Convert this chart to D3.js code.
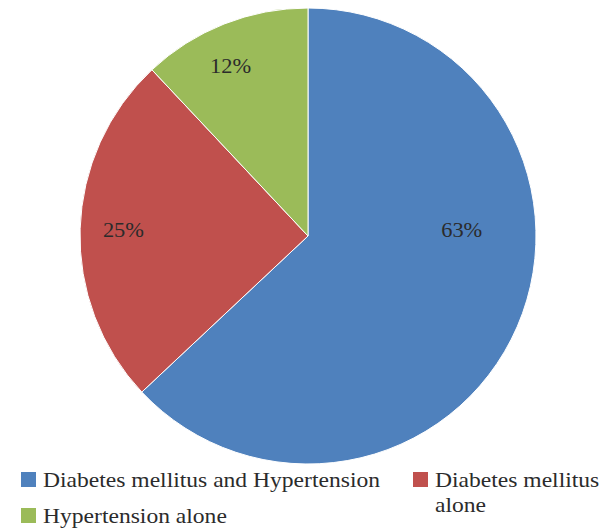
<!DOCTYPE html>
<html><head><meta charset="utf-8">
<script src="https://cdn.jsdelivr.net/npm/d3@7"></script>
<style>body{margin:0;background:#fff}svg{display:block}</style>
</head><body>
<svg id="c" width="602" height="529"></svg>
<script>
const categories = ["Diabetes mellitus and Hypertension", "Diabetes mellitus alone", "Hypertension alone"];
const values = [63, 25, 12];
const labels = ["63%", "25%", "12%"];
const colors = ["#4F81BD", "#C0504D", "#9BBB59"];

const svg = d3.select("#c");
const font = "'Liberation Serif', 'DejaVu Serif', serif";
const cx = 308, cy = 236, r = 228;

const pie = d3.pie().sort(null).value(d => d)(values);
const arc = d3.arc().innerRadius(0).outerRadius(r);
const g = svg.append("g").attr("transform", `translate(${cx},${cy})`);
g.selectAll("path").data(pie).join("path")
  .attr("d", arc).attr("fill", (d, i) => colors[i])
  .attr("stroke", "#fff").attr("stroke-width", 1);

// label placement (layout): angle shift and radial fraction per slice
const labelLayout = [{da: -0.45, k: 0.675}, {da: 0.0, k: 0.81}, {da: -0.05, k: 0.82}];
const lt = g.selectAll("text").data(pie).join("text")
  .attr("x", (d, i) => { const a = (d.startAngle + d.endAngle) / 2 + labelLayout[i].da; return Math.sin(a) * r * labelLayout[i].k; })
  .attr("y", (d, i) => { const a = (d.startAngle + d.endAngle) / 2 + labelLayout[i].da; return -Math.cos(a) * r * labelLayout[i].k; })
  .attr("dy", "0.35em").attr("text-anchor", "middle")
  .style("font-family", font).style("font-size", "20px").attr("fill", "#2b2b2b")
  .text((d, i) => labels[i]);
lt.each(function () { const w = this.getComputedTextLength(); d3.select(this).attr("textLength", w * 1.12).attr("lengthAdjust", "spacingAndGlyphs"); });

// legend
const legendNames = [["Diabetes mellitus and Hypertension"], ["Diabetes mellitus", "alone"], ["Hypertension alone"]];
const leg = [{x: 21, y: 472}, {x: 413, y: 472}, {x: 21, y: 508}];
const texts = [];
leg.forEach((L, i) => {
  svg.append("rect").attr("x", L.x).attr("y", L.y).attr("width", 15).attr("height", 15).attr("fill", colors[i]);
  legendNames[i].forEach((s, j) => {
    const t = svg.append("text").attr("x", L.x + 22).attr("y", L.y + 15 + j * 25)
      .style("font-family", font).style("font-size", "21px").attr("fill", "#2b2b2b").text(s);
    texts.push(t);
  });
});
const stretch = 337 / texts[0].node().getComputedTextLength();
texts.forEach(t => t.attr("textLength", t.node().getComputedTextLength() * stretch).attr("lengthAdjust", "spacingAndGlyphs"));
</script>
</body></html>
